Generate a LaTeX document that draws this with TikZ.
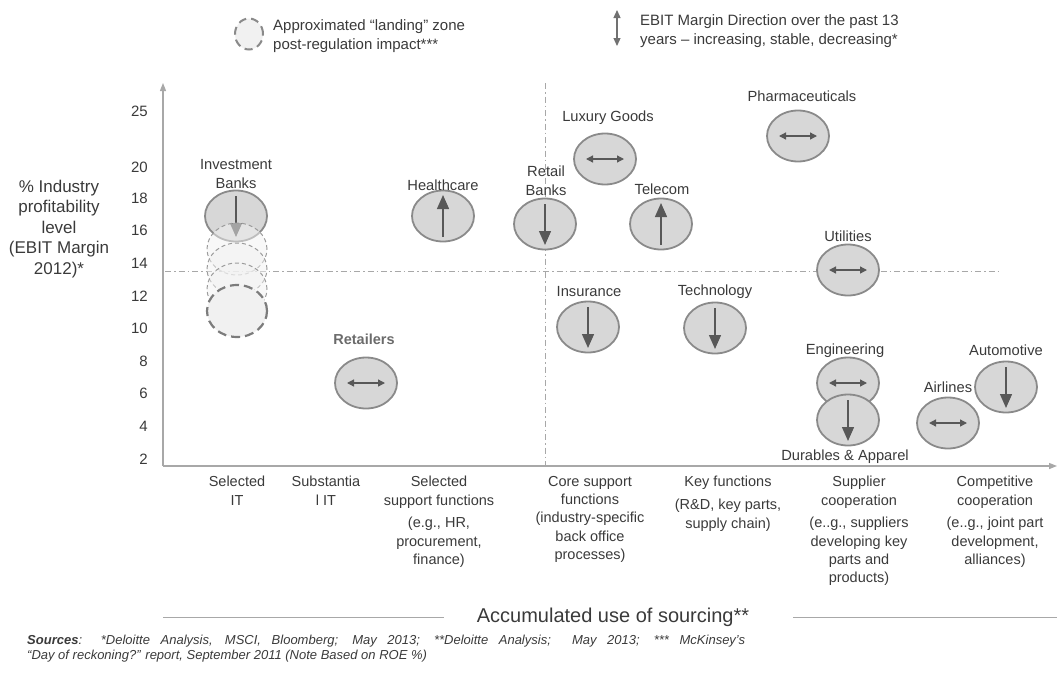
\documentclass[tikz,border=0pt]{standalone}
\usepackage{fontspec}
\setmainfont{Liberation Sans}
\usetikzlibrary{arrows.meta,shapes.geometric}
\definecolor{txt}{HTML}{3A3A3A}
\definecolor{axisc}{HTML}{A8A8A8}
\definecolor{circ}{HTML}{8A8A8A}
\definecolor{circfill}{HTML}{D7D7D7}
\definecolor{arrc}{HTML}{585858}
\definecolor{land}{HTML}{F1F1F1}
\begin{document}
\begin{tikzpicture}[x=1pt,y=-1pt,
  every node/.style={text=txt, inner sep=0pt},
  ind/.style={ellipse, draw=circ, line width=1.8pt, fill=circfill, minimum width=62pt, minimum height=51pt},
  landthin/.style={ellipse, draw=circ!85, line width=1pt, dash pattern=on 4pt off 3pt, fill=land, fill opacity=0.5, minimum width=60pt, minimum height=52pt},
  landthick/.style={ellipse, draw=circ!90!black, line width=2.2pt, dash pattern=on 9pt off 5pt, fill=land, minimum width=60pt, minimum height=52pt},
  lbl/.style={align=center, font=\fontsize{14.7}{19}\selectfont},
  cat/.style={align=center, anchor=north, font=\fontsize{14.5}{18.3}\selectfont},
  tick/.style={anchor=east, font=\fontsize{15}{15}\selectfont},
  arrV/.style={draw=arrc, line width=1.4pt, -{Triangle[width=12pt,length=14pt]}},
  arrH/.style={draw=arrc, line width=1.3pt, {Triangle[width=7pt,length=7pt]}-{Triangle[width=7pt,length=7pt]}},
  axisline/.style={draw=axisc, line width=1.3pt},
  dashdot/.style={draw=axisc, line width=0.9pt, dash pattern=on 6pt off 3pt on 1.5pt off 3pt}
]
\useasboundingbox (0,0) rectangle (1059,672);

% legend
\node[ellipse, draw=circ, line width=2pt, dash pattern=on 8pt off 5pt, fill=land, minimum width=28pt, minimum height=31pt] (legc) at (249,34) {};
\node[anchor=west, align=left, font=\fontsize{15}{18.5}\selectfont] (legct) at (273,36) {Approximated ``landing'' zone\\post-regulation impact***};
\coordinate (legatop) at (617,10);
\coordinate (legabot) at (617,46);
\draw[draw=arrc!85, line width=1.2pt, {Triangle[width=7pt,length=8pt]}-{Triangle[width=7pt,length=8pt]}] (legatop) -- (legabot);
\node[anchor=west, align=left, font=\fontsize{15}{19}\selectfont] (legat) at (640,31) {EBIT Margin Direction over the past 13\\years -- increasing, stable, decreasing*};

% axes
\coordinate (O) at (163,466);
\coordinate (ytop) at (163,83);
\coordinate (xend) at (1057,466);
\draw[axisline, -{Triangle[width=6pt,length=8pt]}] (O) -- (ytop);
\draw[axisline, -{Triangle[width=6pt,length=8pt]}] (O) -- (xend);

% reference lines
\coordinate (hl1) at (165,271);
\coordinate (hl2) at (1000,271);
\coordinate (vl1) at (545,83);
\coordinate (vl2) at (545,465);
\draw[dashdot] (hl1) -- (hl2);
\draw[dashdot] (vl1) -- (vl2);

% y ticks
\node[tick] (t25) at (148,111) {25};
\node[tick] (t20) at (148,167) {20};
\node[tick] (t18) at (148,198) {18};
\node[tick] (t16) at (148,230) {16};
\node[tick] (t14) at (148,263) {14};
\node[tick] (t12) at (148,296) {12};
\node[tick] (t10) at (148,328) {10};
\node[tick] (t8) at (148,361) {8};
\node[tick] (t6) at (148,393) {6};
\node[tick] (t4) at (148,426) {4};
\node[tick] (t2) at (148,459) {2};

% y axis title
\node[align=center, font=\fontsize{17}{20.5}\selectfont] (ytitle) at (59,229) {\% Industry\\profitability\\level\\(EBIT Margin\\2012)*};

% Investment banks + landing zones
\node[ind] (ib) at (236,216) {};
\draw[arrV] ([yshift=20pt]ib.center) -- ([yshift=-21pt]ib.center);
\node[landthin] (lz1) at (237,249) {};
\node[landthin] (lz2) at (237,269) {};
\node[landthin] (lz3) at (237,289) {};
\node[landthick] (lz4) at (237,311) {};
\node[lbl] (ibl) at (236,174) {Investment\\Banks};

% Healthcare
\node[ind] (hc) at (443,216) {};
\draw[arrV] ([yshift=-21pt]hc.center) -- ([yshift=21pt]hc.center);
\node[lbl] (hcl) at (443,185) {Healthcare};

% Retail banks
\node[ind] (rb) at (545,224) {};
\draw[arrV] ([yshift=20pt]rb.center) -- ([yshift=-21pt]rb.center);
\node[lbl] (rbl) at (546,181) {Retail\\Banks};

% Luxury goods
\node[ind] (lg) at (605,159) {};
\draw[arrH] ([xshift=-19pt]lg.center) -- ([xshift=19pt]lg.center);
\node[lbl] (lgl) at (608,118) {Luxury Goods};

% Telecom
\node[ind] (tc) at (661,224) {};
\draw[arrV] ([yshift=-21pt]tc.center) -- ([yshift=21pt]tc.center);
\node[lbl] (tcl) at (662,189) {Telecom};

% Pharmaceuticals
\node[ind] (ph) at (798,136) {};
\draw[arrH] ([xshift=-19pt]ph.center) -- ([xshift=19pt]ph.center);
\node[lbl] (phl) at (802,96) {Pharmaceuticals};

% Utilities
\node[ind] (ut) at (848,270) {};
\draw[arrH] ([xshift=-19pt]ut.center) -- ([xshift=19pt]ut.center);
\node[lbl] (utl) at (848,236) {Utilities};

% Insurance
\node[ind] (in) at (588,327) {};
\draw[arrV] ([yshift=20pt]in.center) -- ([yshift=-21pt]in.center);
\node[lbl] (inl) at (589,292) {Insurance};

% Technology
\node[ind] (te) at (715,328) {};
\draw[arrV] ([yshift=20pt]te.center) -- ([yshift=-21pt]te.center);
\node[lbl] (tel) at (715,292) {Technology};

% Retailers
\node[ind] (rt) at (366,383) {};
\draw[arrH] ([xshift=-19pt]rt.center) -- ([xshift=19pt]rt.center);
\node[lbl, text=black!58, font=\bfseries\fontsize{14.5}{19}\selectfont] (rtl) at (364,339) {Retailers};

% Engineering
\node[ind] (en) at (848,383) {};
\draw[arrH] ([xshift=-19pt]en.center) -- ([xshift=19pt]en.center);
\node[lbl] (enl) at (845,351) {Engineering};

% Durables & Apparel
\node[ind] (du) at (848,420) {};
\draw[arrV] ([yshift=20pt]du.center) -- ([yshift=-21pt]du.center);
\node[lbl] (dul) at (845,457) {Durables \& Apparel};

% Airlines
\node[ind] (al) at (948,423) {};
\draw[arrH] ([xshift=-19pt]al.center) -- ([xshift=19pt]al.center);
\node[lbl] (all) at (948,387) {Airlines};

% Automotive
\node[ind] (au) at (1006,387) {};
\draw[arrV] ([yshift=20pt]au.center) -- ([yshift=-21pt]au.center);
\node[lbl] (aul) at (1006,350) {Automotive};

% category labels
\node[cat] (c1) at (237,476) {Selected\\IT};
\node[cat] (c2) at (326,476) {Substantia\\l IT};
\node[cat] (c3) at (439,476) {Selected\\support functions};
\node[cat] (c3b) at (439,517) {(e.g., HR,\\procurement,\\finance)};
\node[cat] (c4) at (590,476) {Core support\\functions\\(industry-specific\\back office\\processes)};
\node[cat] (c5) at (728,476) {Key functions};
\node[cat] (c5b) at (728,499) {(R\&D, key parts,\\supply chain)};
\node[cat] (c6) at (859,476) {Supplier\\cooperation};
\node[cat] (c6b) at (859,517) {(e..g., suppliers\\developing key\\parts and\\products)};
\node[cat] (c7) at (995,476) {Competitive\\cooperation};
\node[cat] (c7b) at (995,517) {(e..g., joint part\\development,\\alliances)};

% bottom axis title
\node[font=\fontsize{20}{22}\selectfont] (acc) at (613,617) {Accumulated use of sourcing**};
\coordinate (bl1) at (163,617);
\coordinate (bl2) at (444,617);
\coordinate (br1) at (793,617);
\coordinate (br2) at (1057,617);
\draw[draw=axisc, line width=0.9pt] (bl1) -- (bl2);
\draw[draw=axisc, line width=0.9pt] (br1) -- (br2);

% sources
\node[anchor=north west, align=left, font=\itshape\fontsize{13}{14.5}\selectfont] (src) at (27,635) {\makebox[718pt][s]{\textbf{Sources}: *Deloitte Analysis, MSCI, Bloomberg; May 2013; **Deloitte Analysis;\ \ May 2013; *** McKinsey's}\\``Day of reckoning?'' report, September 2011 (Note Based on ROE \%)};
\end{tikzpicture}
\end{document}
